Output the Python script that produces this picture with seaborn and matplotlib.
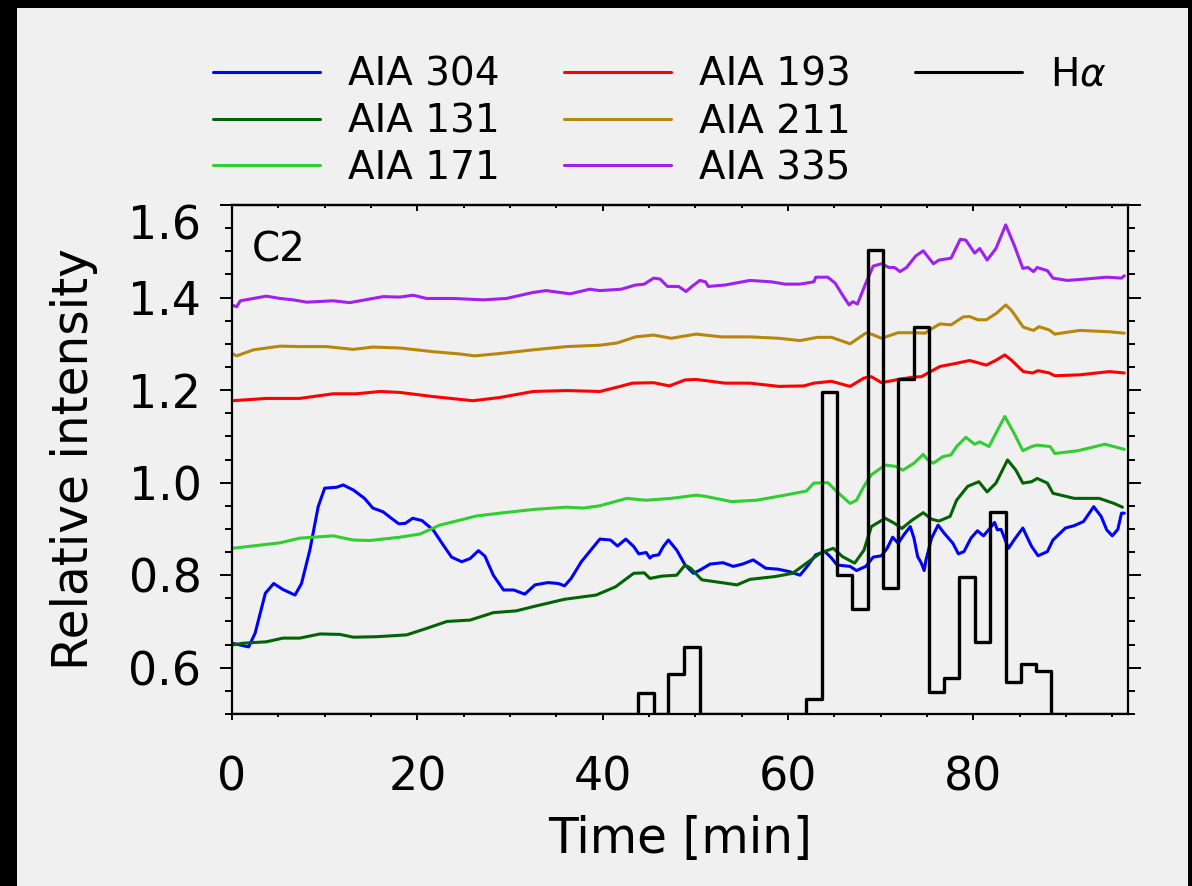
import numpy as np
import pandas as pd
import matplotlib
matplotlib.use("Agg")
import matplotlib.pyplot as plt
from matplotlib.patches import Rectangle
from matplotlib.lines import Line2D
from matplotlib.ticker import MultipleLocator, FormatStrFormatter
import seaborn as sns

# ---- light curves (time in minutes, relative intensity) ----
t_304 = [0, 1.8, 2.5, 3.6, 4.5, 5.5, 6.8, 7.5, 8.4, 9.3, 10.0, 11.3, 12.0, 13.1, 14.3, 15.2,
         16.3, 17.2, 18.0, 18.7, 19.5, 20.5, 21.7, 22.8, 23.7, 24.8, 25.7, 26.6, 27.3, 28.2,
         29.3, 30.4, 31.6, 32.7, 34.1, 35.2, 35.9, 36.6, 37.7, 38.8, 39.7, 40.85, 41.6, 42.5,
         43.35, 43.9, 44.7, 45.1, 45.4, 46.05, 46.55, 47.1, 48.0, 48.9, 49.8, 50.5, 51.6, 53.0,
         54.1, 55.1, 56.25, 57.6, 58.9, 60.1, 61.3, 62.0, 63.0, 64.0, 64.7, 65.3, 66.7, 67.4,
         68.4, 69.2, 70.1, 70.7, 71.3, 71.9, 72.5, 73.2, 73.6, 74.0, 74.4, 74.7, 74.9, 75.5,
         76.2, 76.85, 77.8, 78.4, 79.0, 79.75, 80.45, 81.1, 81.7, 82.3, 82.6, 83.0, 83.8, 84.4,
         84.8, 85.35, 85.7, 86.3, 87.0, 88.0, 88.6, 89.95, 90.9, 91.9, 93.0, 93.8, 94.4, 95.0,
         95.6, 96.0, 96.3]
i_304 = [0.653, 0.645, 0.675, 0.761, 0.782, 0.769, 0.757, 0.782, 0.854, 0.948, 0.988, 0.990,
         0.995, 0.984, 0.966, 0.945, 0.937, 0.923, 0.911, 0.912, 0.923, 0.918, 0.898, 0.865,
         0.839, 0.829, 0.836, 0.853, 0.841, 0.800, 0.768, 0.768, 0.759, 0.779, 0.784, 0.782,
         0.777, 0.793, 0.829, 0.856, 0.878, 0.876, 0.863, 0.878, 0.862, 0.846, 0.849, 0.837,
         0.842, 0.844, 0.862, 0.876, 0.854, 0.822, 0.804, 0.811, 0.824, 0.827, 0.819, 0.824,
         0.833, 0.815, 0.813, 0.808, 0.800, 0.817, 0.844, 0.851, 0.837, 0.822, 0.819, 0.810,
         0.819, 0.839, 0.842, 0.858, 0.882, 0.869, 0.887, 0.905, 0.880, 0.840, 0.826, 0.810,
         0.833, 0.880, 0.908, 0.891, 0.869, 0.846, 0.851, 0.880, 0.896, 0.885, 0.899, 0.914,
         0.898, 0.899, 0.858, 0.876, 0.887, 0.902, 0.887, 0.862, 0.842, 0.851, 0.876, 0.902,
         0.907, 0.916, 0.948, 0.927, 0.898, 0.885, 0.899, 0.934, 0.934]

t_131 = [0, 1.2, 3.7, 5.5, 7.3, 9.5, 11.65, 13.1, 15.6, 18.85, 21.0, 23.2, 25.7, 28.2, 30.7,
         32.5, 35.9, 39.3, 41.4, 43.35, 44.5, 45.1, 46.4, 48.0, 48.9, 49.5, 50.7, 52.8, 54.5,
         55.9, 58.6, 60.5, 62.0, 63.6, 64.9, 65.9, 67.2, 68.2, 69.0, 70.5, 71.5, 72.3, 73.4,
         74.6, 75.5, 76.3, 77.5, 78.2, 79.4, 80.6, 81.5, 82.45, 83.7, 84.6, 85.35, 86.3, 86.9,
         88.0, 88.6, 90.9, 93.6, 95.2, 96.1]
i_131 = [0.649, 0.653, 0.656, 0.664, 0.664, 0.673, 0.672, 0.666, 0.667, 0.671, 0.685, 0.700,
         0.703, 0.719, 0.723, 0.732, 0.748, 0.757, 0.775, 0.804, 0.805, 0.793, 0.798, 0.800,
         0.822, 0.815, 0.790, 0.784, 0.779, 0.791, 0.797, 0.804, 0.826, 0.849, 0.858, 0.840,
         0.826, 0.854, 0.905, 0.923, 0.912, 0.901, 0.919, 0.935, 0.921, 0.917, 0.927, 0.962,
         0.992, 1.002, 0.980, 0.999, 1.049, 1.027, 0.999, 1.002, 1.009, 0.999, 0.977, 0.966,
         0.966, 0.955, 0.947]

t_171 = [0, 5.2, 7.3, 10.9, 13.1, 14.9, 18.1, 20.3, 22.4, 26.4, 28.9, 32.5, 36.1, 37.9, 39.7,
         42.6, 44.7, 47.4, 50.1, 51.2, 53.9, 56.6, 59.7, 62.0, 62.8, 64.3, 65.1, 66.7, 67.4,
         68.2, 69.0, 70.5, 71.65, 72.4, 73.6, 74.6, 75.1, 75.7, 76.7, 77.6, 78.2, 79.2, 80.15,
         80.7, 81.7, 82.45, 83.4, 84.4, 85.35, 86.3, 86.9, 88.3, 88.8, 91.3, 94.2, 96.3]
i_171 = [0.858, 0.870, 0.880, 0.885, 0.876, 0.875, 0.882, 0.889, 0.908, 0.928, 0.934, 0.942,
         0.947, 0.945, 0.950, 0.966, 0.962, 0.966, 0.973, 0.970, 0.959, 0.962, 0.973, 0.982,
         0.999, 1.000, 0.984, 0.955, 0.962, 0.992, 1.017, 1.038, 1.035, 1.027, 1.042, 1.061,
         1.049, 1.042, 1.056, 1.060, 1.078, 1.098, 1.083, 1.088, 1.078, 1.107, 1.143, 1.107,
         1.069, 1.078, 1.081, 1.078, 1.063, 1.069, 1.083, 1.072]

t_193 = [0, 3.7, 7.3, 10.9, 13.4, 16.0, 18.1, 21.7, 26.0, 28.9, 32.5, 36.1, 39.7, 41.9, 43.2,
         45.5, 47.2, 48.9, 50.1, 51.3, 53.2, 55.9, 59.0, 61.7, 62.8, 64.7, 66.7, 68.2, 69.0,
         70.1, 71.9, 73.5, 74.4, 76.4, 78.2, 79.6, 80.7, 81.4, 82.5, 83.4, 84.1, 85.4, 86.4,
         87.0, 88.2, 88.8, 91.5, 94.7, 96.3]
i_193 = [1.177, 1.182, 1.182, 1.192, 1.192, 1.197, 1.195, 1.186, 1.177, 1.184, 1.197, 1.199,
         1.197, 1.208, 1.215, 1.216, 1.209, 1.222, 1.223, 1.220, 1.215, 1.215, 1.208, 1.209,
         1.215, 1.219, 1.208, 1.226, 1.229, 1.216, 1.223, 1.228, 1.229, 1.251, 1.258, 1.264,
         1.258, 1.254, 1.265, 1.276, 1.265, 1.240, 1.237, 1.242, 1.237, 1.231, 1.233, 1.240,
         1.237]

t_211 = [0, 0.5, 2.3, 5.2, 7.3, 10.2, 13.1, 15.2, 18.1, 21.7, 24.6, 26.2, 28.9, 32.5, 36.1,
         39.7, 41.6, 43.55, 45.5, 47.4, 50.1, 52.8, 55.9, 59.0, 61.3, 63.2, 64.7, 66.7, 68.4,
         69.0, 70.1, 71.9, 73.6, 74.8, 75.3, 76.4, 77.6, 78.9, 79.6, 80.5, 81.4, 82.5, 83.5,
         84.1, 85.4, 86.5, 87.1, 88.2, 88.8, 91.5, 94.7, 96.3]
i_211 = [1.279, 1.274, 1.287, 1.295, 1.294, 1.294, 1.288, 1.293, 1.291, 1.283, 1.278, 1.274,
         1.279, 1.287, 1.294, 1.297, 1.302, 1.315, 1.319, 1.312, 1.321, 1.315, 1.315, 1.312,
         1.307, 1.314, 1.314, 1.300, 1.323, 1.321, 1.312, 1.324, 1.324, 1.323, 1.330, 1.343,
         1.341, 1.358, 1.359, 1.352, 1.352, 1.366, 1.384, 1.373, 1.336, 1.329, 1.337, 1.330,
         1.321, 1.329, 1.326, 1.323]

t_335 = [0, 0.5, 0.9, 3.7, 5.2, 6.6, 8.05, 10.9, 12.7, 16.3, 18.1, 19.55, 21.0, 23.9, 27.1,
         29.6, 32.5, 33.9, 36.5, 38.6, 39.7, 42.0, 43.55, 44.5, 45.5, 46.2, 47.0, 48.2, 49.0,
         49.7, 50.5, 51.1, 51.4, 53.2, 55.9, 58.2, 59.7, 61.3, 62.8, 63.0, 64.3, 65.1, 65.9,
         66.6, 67.0, 67.5, 68.4, 69.2, 70.1, 70.9, 71.5, 72.1, 72.8, 73.8, 74.6, 75.7, 76.3,
         77.6, 78.6, 79.2, 80.15, 80.7, 81.5, 82.45, 83.5, 84.4, 85.35, 85.9, 86.5, 86.9, 88.0,
         88.6, 90.15, 92.1, 94.4, 96.0, 96.3]
i_335 = [1.384, 1.380, 1.393, 1.403, 1.398, 1.395, 1.390, 1.393, 1.389, 1.402, 1.401, 1.405,
         1.398, 1.398, 1.395, 1.398, 1.411, 1.415, 1.408, 1.418, 1.415, 1.418, 1.427, 1.429,
         1.442, 1.440, 1.424, 1.424, 1.413, 1.425, 1.437, 1.434, 1.424, 1.427, 1.437, 1.434,
         1.429, 1.429, 1.434, 1.444, 1.444, 1.431, 1.405, 1.384, 1.391, 1.386, 1.431, 1.468,
         1.473, 1.465, 1.465, 1.456, 1.465, 1.490, 1.501, 1.473, 1.481, 1.485, 1.526, 1.524,
         1.496, 1.506, 1.481, 1.506, 1.557, 1.514, 1.463, 1.465, 1.456, 1.465, 1.458, 1.442,
         1.437, 1.440, 1.444, 1.442, 1.447]

# H-alpha binned intensity: bin edges and the value held in each bin
ha_edges = [0, 43.8, 45.5, 47.1, 48.75, 50.5, 62.0, 63.65, 65.3, 66.9, 68.6, 70.25, 71.9,
            73.6, 75.2, 76.85, 78.5, 80.15, 81.8, 83.5, 85.1, 86.75, 88.4, 96.7]
ha_vals = [0.5, 0.545, 0.5, 0.586, 0.645, 0.5, 0.532, 1.196, 0.800, 0.727, 1.503, 0.772,
           1.223, 1.337, 0.547, 0.577, 0.795, 0.655, 0.936, 0.570, 0.607, 0.593, 0.5]

series = [
    ("AIA 304", t_304, i_304, "#0000ff"),
    ("AIA 131", t_131, i_131, "#006400"),
    ("AIA 171", t_171, i_171, "#32cd32"),
    ("AIA 193", t_193, i_193, "#ff0000"),
    ("AIA 211", t_211, i_211, "#b8860b"),
    ("AIA 335", t_335, i_335, "#a020f0"),
]

sns.set_style("ticks")
plt.rcParams["font.family"] = ["DejaVu Sans"]
plt.rcParams["mathtext.fontset"] = "dejavusans"
plt.rcParams["lines.linewidth"] = 2.2
for key in ("text.color", "axes.labelcolor", "xtick.color", "ytick.color", "axes.edgecolor"):
    plt.rcParams[key] = "black"

BG = "#f0f0f0"
W, H = 1192, 886
fig = plt.figure(figsize=(W / 100, H / 100), dpi=100)
fig.patch.set_facecolor("black")
fig.add_artist(Rectangle((17 / W, 0), (W - 21) / W, (H - 8) / H, transform=fig.transFigure,
                         facecolor=BG, edgecolor="none", zorder=-10))

ax = fig.add_axes([232 / W, 1 - 714 / H, (1128 - 232) / W, (714 - 205) / H])
ax.set_facecolor("none")

LW = 2.2
for name, tt, vv, col in series:
    df = pd.DataFrame({"time": tt, "intensity": vv})
    sns.lineplot(data=df, x="time", y="intensity", ax=ax, color=col, linewidth=LW,
                 estimator=None, legend=False, label=name)

ha_df = pd.DataFrame({"time": ha_edges, "intensity": ha_vals + [ha_vals[-1]]})
sns.lineplot(data=ha_df, x="time", y="intensity", ax=ax, color="black", linewidth=2.4,
             drawstyle="steps-post", estimator=None, legend=False, label=r"H$\alpha$")

# make sure every curve carries the intended stroke width
for ln in ax.get_lines():
    ln.set_linewidth(2.4 if ln.get_color() == "black" else LW)

ax.set_xlim(0, 96.7)
ax.set_ylim(0.5, 1.6)

for sp in ax.spines.values():
    sp.set_visible(True)
    sp.set_linewidth(1.6)
    sp.set_color("black")

ax.xaxis.set_major_locator(MultipleLocator(20))
ax.xaxis.set_minor_locator(MultipleLocator(5))
ax.yaxis.set_major_locator(MultipleLocator(0.2))
ax.yaxis.set_minor_locator(MultipleLocator(0.05))
ax.xaxis.set_major_formatter(FormatStrFormatter("%d"))
ax.yaxis.set_major_formatter(FormatStrFormatter("%.1f"))

ax.tick_params(axis="x", which="major", direction="out", length=4, width=1.4,
               labelsize=33, pad=26, top=False, colors="black")
ax.tick_params(axis="x", which="minor", direction="out", length=2, width=1.4, top=False)
ax.tick_params(axis="y", which="major", direction="out", length=9, width=1.4,
               labelsize=33, pad=13, left=True, right=True, colors="black")
ax.tick_params(axis="y", which="minor", direction="out", length=5, width=1.4,
               left=True, right=True)

top = ax.secondary_xaxis("top")
top.xaxis.set_major_locator(MultipleLocator(20))
top.xaxis.set_minor_locator(MultipleLocator(5))
top.tick_params(which="major", direction="in", length=4, width=1.4, labeltop=False)
top.tick_params(which="minor", direction="in", length=2, width=1.4)
top.spines["top"].set_linewidth(1.6)

fig.canvas.draw()
for lbl in ax.get_yticklabels():
    if lbl.get_text() == "1.6":
        lbl.set_verticalalignment("top")

ax.set_xlabel("Time [min]", fontsize=35, labelpad=10, color="black")
ax.set_ylabel("Relative intensity", fontsize=35, labelpad=22, color="black")

ax.text(20 / 896, (714 - 262) / 509, "C2", transform=ax.transAxes, fontsize=29,
        va="baseline", ha="left", color="black")

handles, labels = ax.get_legend_handles_labels()
blank = Line2D([], [], color="none")
leg_handles = handles + [blank, blank]
leg_labels = labels + ["", ""]
leg = fig.legend(leg_handles, leg_labels, ncol=3, loc="upper left",
                 bbox_to_anchor=(213 / W, 1 - 56 / H), frameon=False, fontsize=28,
                 handlelength=2.75, handletextpad=0.72, columnspacing=1.65,
                 labelspacing=0.22, borderpad=0, borderaxespad=0)
for txt in leg.get_texts():
    txt.set_color("black")
for ln in leg.get_lines():
    ln.set_linewidth(2.2)

fig.savefig("out.png", dpi=100, facecolor=fig.get_facecolor())
